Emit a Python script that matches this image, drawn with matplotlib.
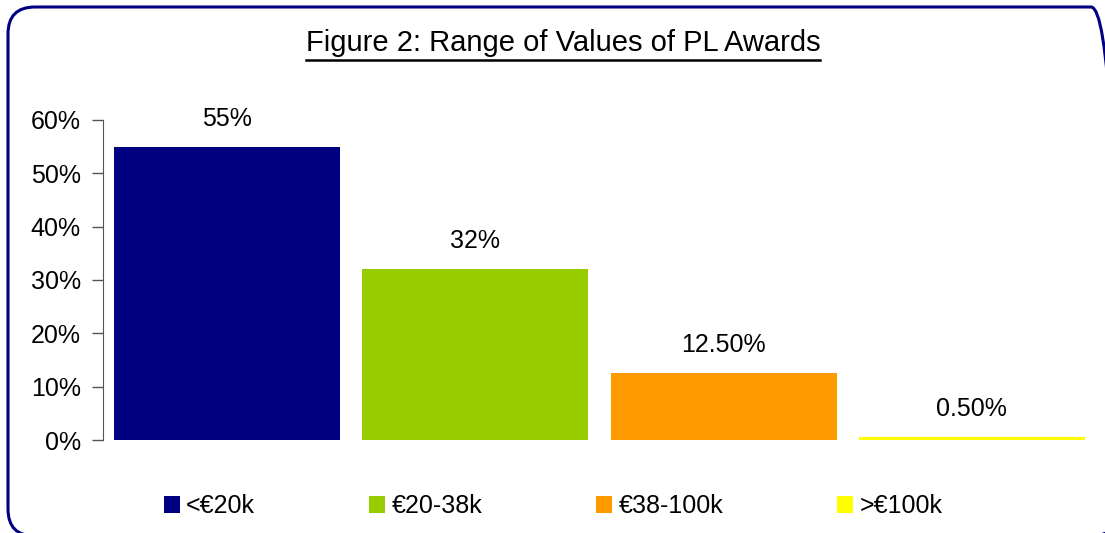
import matplotlib.pyplot as plt
from matplotlib.patches import FancyBboxPatch, Patch
from matplotlib.transforms import IdentityTransform
from matplotlib.ticker import PercentFormatter

plt.rcParams['font.family'] = ['Liberation Sans', 'DejaVu Sans']

categories = ["<€20k", "€20-38k", "€38-100k", ">€100k"]
values = [55, 32, 12.5, 0.5]
value_labels = ["55%", "32%", "12.50%", "0.50%"]
colors = ["#000080", "#99CC00", "#FF9900", "#FFFF00"]

W, H = 1105, 533
fig = plt.figure(figsize=(W / 100, H / 100), dpi=100)

# rounded border in pixel coords
border = FancyBboxPatch((8, -3), 1110, 529, boxstyle="round,pad=0,rounding_size=27",
                        transform=IdentityTransform(), facecolor="none",
                        edgecolor="#000080", linewidth=2.2, zorder=10)
fig.patches.append(border)

ax = fig.add_axes([103 / W, 1 - 440 / H, (1096 - 103) / W, (440 - 120) / H])
x = range(len(categories))
bars = ax.bar(x, values, width=0.91, color=colors)
ax.set_xlim(-0.5, len(categories) - 0.5)
ax.set_ylim(0, 60)
ax.yaxis.set_major_formatter(PercentFormatter(decimals=0))
ax.set_yticks(range(0, 61, 10))
ax.tick_params(axis='y', labelsize=18, length=8, width=1, color="#555555", pad=8)
ax.set_xticks([])
for s in ["top", "right", "bottom"]:
    ax.spines[s].set_visible(False)
ax.spines["left"].set_color("#555555")

for b, lab in zip(bars, value_labels):
    ax.annotate(lab, (b.get_x() + b.get_width() / 2, b.get_height()),
                xytext=(0, 28), textcoords="offset pixels", ha="center", va="center",
                fontsize=18)

title = fig.text(563 / W, 1 - 43 / H, "Figure 2: Range of Values of PL Awards",
                 ha="center", va="center", fontsize=21)
fig.canvas.draw()
bb = title.get_window_extent()
fig.add_artist(plt.Line2D([bb.x0, bb.x1], [H - 59.5, H - 59.5], transform=IdentityTransform(),
                          color="black", linewidth=1.8))

handles = [Patch(facecolor=c, edgecolor="none") for c in colors]
fig.legend(handles, categories, loc="center", bbox_to_anchor=(553 / W, 1 - 506 / H),
           ncol=4, frameon=False, fontsize=18, handlelength=0.65, handleheight=0.65,
           handletextpad=0.25, columnspacing=4.55)

fig.savefig("out.png", dpi=100)
